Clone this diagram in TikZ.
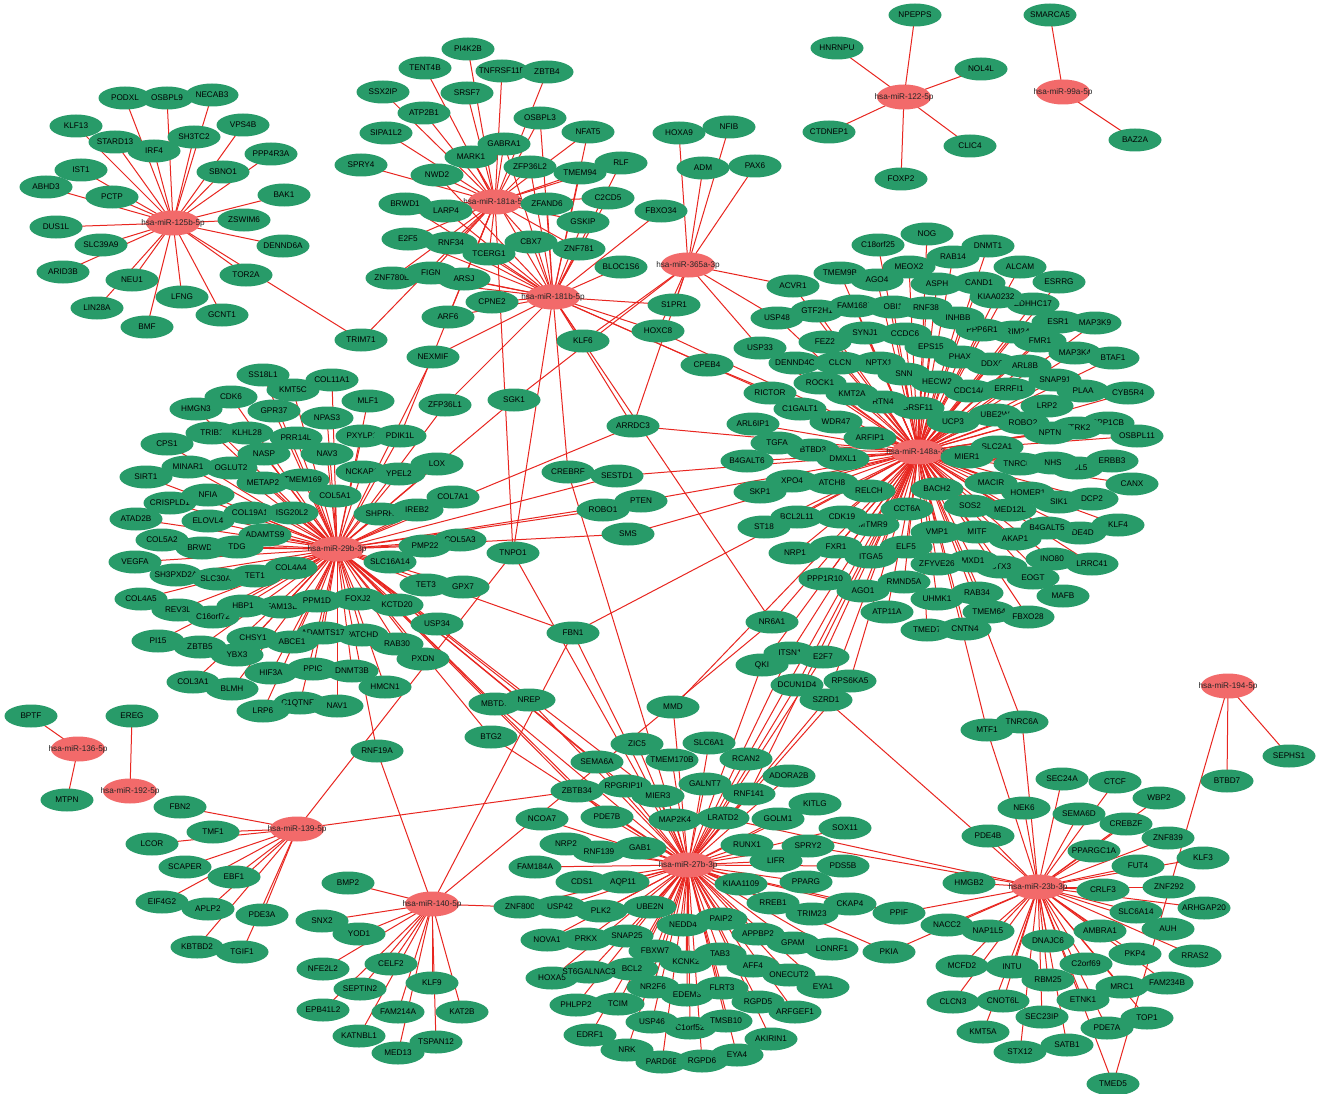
\documentclass[tikz,border=0pt]{standalone}
\usepackage{fontspec}
\setmainfont{Liberation Sans}
\usetikzlibrary{shapes.geometric}
\definecolor{genegreen}{RGB}{40,155,105}
\definecolor{mirred}{RGB}{242,106,106}
\definecolor{edgered}{RGB}{232,38,32}
\pgfdeclarelayer{bgl}\pgfdeclarelayer{edgel}
\pgfsetlayers{bgl,edgel,main}
\newcommand\genefont{\fontsize{8.2}{9}\selectfont}
\newcommand\gnode[3]{\node[gene] (#1) at (#2,#3) {\makebox[0pt]{#1}};}
\newcommand\mnode[4]{\node[mirna] (#1) at (#2,#3) {\makebox[0pt]{#4}};}
\newcommand\linkall[2]{\foreach \x in {#2} {\draw[lnk] (#1.center) -- (\x.center);}}
\tikzset{
  gene/.style={ellipse, fill=genegreen, minimum width=53pt, minimum height=23pt, inner sep=0pt, font=\genefont, text=black},
  mirna/.style={ellipse, fill=mirred, minimum width=54pt, minimum height=25pt, inner sep=0pt, font=\genefont, text=black!85},
  lnk/.style={draw=edgered, line width=1pt}
}
\begin{document}
\begin{tikzpicture}[x=1pt,y=-1pt]
\useasboundingbox (0,0) rectangle (1319,1094);
\begin{pgfonlayer}{bgl}\fill[white] (0,0) rectangle (1319,1094);\end{pgfonlayer}
% hubs
\mnode{m125}{173}{223}{hsa-miR-125b-5p}
\mnode{m181a}{495}{202}{hsa-miR-181a-5p}
\mnode{m181b}{553}{297}{hsa-miR-181b-5p}
\mnode{m365}{688}{265}{hsa-miR-365a-3p}
\mnode{m122}{904}{97}{hsa-miR-122-5p}
\mnode{m99}{1063}{92}{hsa-miR-99a-5p}
\mnode{m148}{918}{452}{hsa-miR-148a-3p}
\mnode{m29}{337}{549}{hsa-miR-29b-3p}
\mnode{m27}{688}{865}{hsa-miR-27b-3p}
\mnode{m23}{1038}{887}{hsa-miR-23b-3p}
\mnode{m194}{1228}{686}{hsa-miR-194-5p}
\mnode{m136}{78}{749}{hsa-miR-136-5p}
\mnode{m192}{130}{791}{hsa-miR-192-5p}
\mnode{m139}{297}{829}{hsa-miR-139-5p}
\mnode{m140}{432}{904}{hsa-miR-140-5p}
% 125b
\gnode{PODXL}{125}{98}\gnode{OSBPL9}{167}{98}\gnode{NECAB3}{212}{95}
\gnode{KLF13}{76}{126}\gnode{STARD13}{115}{142}\gnode{IRF4}{154}{151}
\gnode{SH3TC2}{194}{137}\gnode{VPS4B}{243}{125}\gnode{PPP4R3A}{271}{154}
\gnode{SBNO1}{223}{172}\gnode{IST1}{81}{170}\gnode{ABHD3}{46}{187}
\gnode{PCTP}{112}{197}\gnode{BAK1}{284}{195}\gnode{ZSWIM6}{244}{220}
\gnode{DUS1L}{56}{227}\gnode{SLC39A9}{101}{245}\gnode{DENND6A}{283}{246}
\gnode{ARID3B}{63}{272}\gnode{NEU1}{132}{280}\gnode{TOR2A}{246}{275}
\gnode{LIN28A}{97}{308}\gnode{LFNG}{182}{297}\gnode{GCNT1}{222}{315}
\gnode{BMF}{147}{327}\gnode{TRIM71}{361}{340}
% 181a/b
\gnode{PI4K2B}{468}{49}\gnode{TENT4B}{425}{68}\gnode{TNFRSF11B}{502}{71}
\gnode{ZBTB4}{547}{72}\gnode{SSX2IP}{383}{92}\gnode{SRSF7}{467}{93}
\gnode{ATP2B1}{424}{113}\gnode{OSBPL3}{540}{118}\gnode{SIPA1L2}{386}{133}
\gnode{NFAT5}{588}{132}\gnode{GABRA1}{504}{144}\gnode{MARK1}{471}{157}
\gnode{SPRY4}{361}{165}\gnode{NWD2}{437}{175}\gnode{ZFP36L2}{530}{167}
\gnode{RLF}{621}{163}\gnode{TMEM94}{580}{173}\gnode{BRWD1}{405}{204}
\gnode{LARP4}{446}{211}\gnode{C2CD5}{608}{198}\gnode{ZFAND6}{547}{204}
\gnode{FBXO34}{661}{211}\gnode{GSKIP}{583}{222}\gnode{E2F5}{408}{239}
\gnode{RNF34}{451}{243}\gnode{CBX7}{531}{242}\gnode{ZNF781}{579}{249}
\gnode{TCERG1}{489}{254}\gnode{BLOC1S6}{621}{267}\gnode{ZNF780B}{392}{278}
\gnode{FIGN}{431}{273}\gnode{ARSJ}{464}{279}\gnode{CPNE2}{492}{302}
\gnode{ARF6}{448}{317}\gnode{S1PR1}{674}{305}\gnode{HOXC8}{658}{331}
% 365a
\gnode{HOXA9}{679}{133}\gnode{NFIB}{729}{127}\gnode{ADM}{703}{168}\gnode{PAX6}{755}{166}
% 122, 99a
\gnode{NPEPPS}{915}{15}\gnode{HNRNPU}{837}{48}\gnode{NOL4L}{981}{69}
\gnode{CTDNEP1}{829}{132}\gnode{CLIC4}{970}{146}\gnode{FOXP2}{901}{179}
\gnode{SMARCA5}{1050}{15}\gnode{BAZ2A}{1135}{140}
% 148a upper
\gnode{NOG}{927}{234}\gnode{C18orf25}{878}{245}\gnode{DNMT1}{988}{246}
\gnode{RAB14}{953}{257}\gnode{MEOX2}{909}{267}\gnode{TMEM9B}{840}{273}
\gnode{AGO4}{877}{280}\gnode{ALCAM}{1020}{267}\gnode{ASPH}{937}{284}
\gnode{CAND1}{979}{283}\gnode{ESRRG}{1059}{282}\gnode{ACVR1}{793}{286}
\gnode{ZDHHC17}{1033}{304}\gnode{KIAA0232}{996}{297}\gnode{GTF2H1}{817}{311}
\gnode{FAM168B}{855}{306}\gnode{OBI1}{893}{307}\gnode{RNF38}{926}{308}
\gnode{USP48}{777}{318}\gnode{TRIM24}{1015}{332}\gnode{PPP6R1}{982}{330}
\gnode{INHBB}{958}{318}\gnode{ESR1}{1058}{322}\gnode{MAP3K9}{1095}{323}
\gnode{SYNJ1}{865}{333}\gnode{CCDC6}{905}{334}\gnode{FEZ2}{825}{342}
\gnode{FMR1}{1040}{341}\gnode{EPS15}{931}{347}\gnode{MAP3K4}{1075}{353}
\gnode{BTAF1}{1113}{358}\gnode{USP33}{760}{348}\gnode{PHAX}{960}{357}
\gnode{DDX6}{992}{364}\gnode{ARL8B}{1025}{366}\gnode{DENND4C}{795}{363}
\gnode{CLCN}{840}{363}\gnode{NPTX1}{879}{363}\gnode{SNN}{904}{374}
\gnode{HECW2}{937}{382}\gnode{SNAP91}{1055}{380}\gnode{ROCK1}{820}{383}
\gnode{CDC14A}{970}{391}\gnode{ERRFI1}{1009}{389}\gnode{CYB5R4}{1128}{393}
\gnode{PLAA}{1083}{391}\gnode{SRSF11}{918}{408}\gnode{RTN4}{883}{402}
\gnode{KMT2A}{852}{394}\gnode{RICTOR}{770}{393}\gnode{LRP2}{1047}{406}
\gnode{C1GALT1}{800}{409}\gnode{UBE2W}{995}{415}\gnode{CPEB4}{707}{365}
% 148a lower
\gnode{WDR47}{836}{422}\gnode{ARL6IP1}{753}{424}\gnode{UCP3}{953}{422}
\gnode{ROBO2}{1023}{423}\gnode{PPP1CB}{1108}{423}\gnode{NTRK2}{1077}{428}
\gnode{NPTN}{1050}{433}\gnode{OSBPL11}{1137}{436}\gnode{BTBD3}{813}{450}
\gnode{TGFA}{777}{443}\gnode{ARFIP1}{870}{438}\gnode{DMXL1}{843}{459}
\gnode{B4GALT6}{747}{461}\gnode{SLC2A1}{997}{447}\gnode{MIER1}{967}{457}
\gnode{TNRC6C}{1020}{464}\gnode{CUL5}{1077}{468}\gnode{NHS}{1053}{463}
\gnode{ERBB3}{1112}{461}\gnode{XPO4}{792}{481}\gnode{ATCH8}{832}{483}
\gnode{RELCH}{869}{491}\gnode{SKP1}{760}{492}\gnode{BACH2}{937}{489}
\gnode{MACIR}{991}{483}\gnode{CANX}{1132}{484}\gnode{HOMER1}{1028}{493}
\gnode{SIK1}{1059}{502}\gnode{DCP2}{1092}{499}\gnode{SOS2}{970}{506}
\gnode{MED12L}{1010}{510}\gnode{CCT6A}{907}{509}\gnode{BCL2L11}{797}{517}
\gnode{MTMR9}{873}{525}\gnode{CDK19}{842}{517}\gnode{ST18}{764}{527}
\gnode{VMP1}{937}{532}\gnode{MITF}{977}{532}\gnode{PDE4D}{1080}{533}
\gnode{B4GALT5}{1047}{528}\gnode{KLF4}{1118}{525}\gnode{AKAP1}{1015}{539}
\gnode{NRP1}{795}{553}\gnode{FXR1}{836}{547}\gnode{ELF5}{906}{547}
\gnode{ITGA5}{871}{557}\gnode{INO80}{1052}{559}\gnode{LRRC41}{1092}{564}
\gnode{STX3}{1001}{567}\gnode{MXD1}{973}{561}\gnode{ZFYVE26}{937}{564}
\gnode{EOGT}{1033}{578}\gnode{PPP1R10}{825}{579}\gnode{RMND5A}{904}{582}
\gnode{AGO1}{863}{591}\gnode{MAFB}{1063}{596}\gnode{UHMK1}{937}{599}
\gnode{RAB34}{977}{593}\gnode{TMEM64}{989}{612}\gnode{FBXO28}{1028}{617}
\gnode{ATP11A}{887}{612}\gnode{TMED7}{927}{630}\gnode{CNTN4}{965}{629}
% bridge genes
\gnode{NR6A1}{772}{622}\gnode{QKI}{762}{665}\gnode{ITSN1}{790}{653}
\gnode{E2F7}{823}{657}\gnode{DCUN1D4}{797}{685}\gnode{RPS6KA5}{850}{681}
\gnode{SZRD1}{826}{700}\gnode{MTF1}{987}{730}\gnode{TNRC6A}{1022}{722}
\gnode{NEXMIF}{433}{357}\gnode{KLF6}{583}{341}\gnode{SGK1}{514}{400}
\gnode{ARRDC3}{633}{426}\gnode{CREBRF}{568}{472}\gnode{SESTD1}{617}{476}
\gnode{PTEN}{641}{501}\gnode{ROBO1}{603}{510}\gnode{SMS}{628}{534}
\gnode{TNPO1}{513}{553}\gnode{FBN1}{573}{633}\gnode{MMD}{673}{707}
\gnode{MBTD1}{495}{704}\gnode{NREP}{529}{700}\gnode{BTG2}{491}{737}
\gnode{RNF19A}{377}{751}
% 29b
\gnode{SS18L1}{263}{375}\gnode{KMT5C}{293}{390}\gnode{COL11A1}{332}{380}
\gnode{CDK6}{231}{397}\gnode{HMGN3}{196}{409}\gnode{GPR37}{274}{411}
\gnode{MLF1}{368}{401}\gnode{NPAS3}{327}{418}\gnode{ZFP36L1}{445}{405}
\gnode{TRIB1}{212}{433}\gnode{KLHL28}{247}{433}\gnode{PRR14L}{296}{438}
\gnode{PXYLP1}{362}{436}\gnode{PDIK1L}{400}{436}\gnode{CPS1}{167}{444}
\gnode{NASP}{264}{454}\gnode{NAV3}{327}{454}\gnode{LOX}{437}{464}
\gnode{MINAR1}{188}{467}\gnode{OGLUT2}{231}{468}\gnode{NCKAP1}{362}{472}
\gnode{YPEL2}{399}{474}\gnode{SIRT1}{146}{477}\gnode{TMEM169}{303}{480}
\gnode{METAP2}{263}{483}\gnode{CRISPLD1}{170}{503}\gnode{NFIA}{208}{495}
\gnode{COL5A1}{335}{496}\gnode{COL7A1}{453}{497}\gnode{SHPRH}{380}{514}
\gnode{IREB2}{417}{510}\gnode{ATAD2B}{136}{519}\gnode{ELOVL4}{208}{521}
\gnode{COL19A1}{250}{513}\gnode{ISG20L2}{292}{513}\gnode{ADAMTS9}{265}{535}
\gnode{COL5A2}{162}{540}\gnode{BRWD3}{202}{548}\gnode{TDG}{237}{547}
\gnode{COL5A3}{460}{540}\gnode{PMP22}{425}{546}\gnode{VEGFA}{135}{562}
\gnode{SLC16A14}{390}{562}\gnode{SH3PXD2A}{176}{575}\gnode{SLC30A3}{218}{579}
\gnode{TET1}{255}{576}\gnode{COL4A4}{291}{568}\gnode{TET3}{426}{585}
\gnode{GPX7}{463}{587}\gnode{COL4A5}{141}{599}\gnode{REV3L}{178}{610}
\gnode{C16orf72}{213}{617}\gnode{FAM13B}{282}{607}\gnode{HBP1}{243}{606}
\gnode{PPM1D}{317}{601}\gnode{FOXJ2}{358}{599}\gnode{KCTD20}{397}{605}
\gnode{USP34}{437}{624}\gnode{PI15}{158}{641}\gnode{ZBTB5}{200}{647}
\gnode{PATCHD}{362}{635}\gnode{ADAMTS17}{323}{633}\gnode{ABCE1}{292}{642}
\gnode{CHSY1}{253}{638}\gnode{RAB30}{397}{644}\gnode{YBX3}{237}{655}
\gnode{PXDN}{423}{659}\gnode{HIF3A}{271}{673}\gnode{PPIC}{313}{669}
\gnode{DNMT3B}{352}{671}\gnode{COL3A1}{193}{682}\gnode{BLMH}{232}{689}
\gnode{HMCN1}{385}{687}\gnode{C1QTNF6}{300}{703}\gnode{LRP6}{263}{711}
\gnode{NAV1}{337}{706}
% 27b
\gnode{ZIC5}{637}{744}\gnode{SLC6A1}{709}{743}\gnode{TMEM170B}{672}{760}
\gnode{RCAN2}{746}{759}\gnode{SEMA6A}{597}{762}\gnode{ADORA2B}{789}{776}
\gnode{GALNT7}{705}{784}\gnode{ZBTB34}{577}{791}\gnode{RPGRIP1L}{625}{786}
\gnode{MIER3}{658}{796}\gnode{RNF141}{749}{794}\gnode{KITLG}{815}{804}
\gnode{NCOA7}{542}{819}\gnode{PDE7B}{607}{817}\gnode{MAP2K4}{675}{820}
\gnode{LRATD2}{723}{818}\gnode{GOLM1}{778}{819}\gnode{SOX11}{845}{828}
\gnode{NRP2}{566}{844}\gnode{RNF139}{599}{852}\gnode{GAB1}{640}{848}
\gnode{RUNX1}{747}{845}\gnode{SPRY2}{808}{846}\gnode{LIFR}{776}{861}
\gnode{PDS5B}{843}{866}\gnode{FAM184A}{535}{867}\gnode{CDS1}{582}{882}
\gnode{AQP11}{623}{882}\gnode{KIAA1109}{741}{884}\gnode{PPARG}{806}{882}
\gnode{ZNF800}{520}{907}\gnode{USP42}{560}{907}\gnode{PLK2}{601}{911}
\gnode{UBE2N}{650}{907}\gnode{RREB1}{773}{903}\gnode{CKAP4}{850}{904}
\gnode{TRIM23}{812}{914}\gnode{NEDD4}{683}{925}\gnode{PAIP2}{721}{919}
\gnode{NOVA1}{547}{940}\gnode{PRKX}{586}{939}\gnode{SNAP25}{627}{936}
\gnode{APPBP2}{758}{934}\gnode{GPAM}{793}{943}\gnode{LONRF1}{832}{949}
\gnode{FBXW7}{655}{951}\gnode{KCNK2}{686}{962}\gnode{TAB3}{720}{954}
\gnode{BCL2}{632}{969}\gnode{HOXA5}{552}{978}\gnode{ST6GALNAC3}{589}{972}
\gnode{AFF4}{753}{966}\gnode{ONECUT2}{789}{975}\gnode{EYA1}{823}{987}
\gnode{NR2F6}{653}{987}\gnode{EDEM3}{687}{995}\gnode{FLRT3}{722}{988}
\gnode{RGPD5}{758}{1002}\gnode{ARFGEF1}{795}{1012}\gnode{PHLPP2}{576}{1005}
\gnode{TCIM}{618}{1004}\gnode{C1orf52}{690}{1028}\gnode{USP46}{652}{1022}
\gnode{TMSB10}{726}{1021}\gnode{EDRF1}{590}{1035}\gnode{AKIRIN1}{771}{1039}
\gnode{NRK}{627}{1050}\gnode{EYA4}{737}{1055}\gnode{PARD6B}{662}{1062}
\gnode{RGPD6}{702}{1061}
% 23b
\gnode{SEPHS1}{1289}{756}\gnode{BTBD7}{1227}{781}\gnode{SEC24A}{1062}{779}
\gnode{CTCF}{1115}{782}\gnode{WBP2}{1159}{798}\gnode{NEK6}{1024}{808}
\gnode{SEMA6D}{1079}{814}\gnode{CREBZF}{1126}{824}\gnode{PDE4B}{988}{836}
\gnode{ZNF839}{1168}{838}\gnode{PPARGC1A}{1094}{851}\gnode{KLF3}{1203}{858}
\gnode{FUT4}{1138}{866}\gnode{HMGB2}{969}{883}\gnode{CRLF3}{1103}{890}
\gnode{ZNF292}{1169}{887}\gnode{ARHGAP20}{1204}{908}\gnode{PPIF}{899}{913}
\gnode{SLC6A14}{1136}{912}\gnode{NACC2}{947}{925}\gnode{NAP1L5}{988}{931}
\gnode{AMBRA1}{1100}{931}\gnode{AUH}{1168}{929}\gnode{DNAJC6}{1048}{941}
\gnode{PKIA}{889}{952}\gnode{PKP4}{1135}{954}\gnode{RRAS2}{1195}{956}
\gnode{MCFD2}{962}{966}\gnode{INTU}{1012}{967}\gnode{C2orf69}{1086}{964}
\gnode{RBM25}{1048}{980}\gnode{MRC1}{1122}{987}\gnode{FAM234B}{1167}{983}
\gnode{CLCN3}{953}{1002}\gnode{CNOT6L}{1003}{1001}\gnode{ETNK1}{1083}{1000}
\gnode{SEC23IP}{1042}{1017}\gnode{TOP1}{1147}{1018}\gnode{PDE7A}{1107}{1028}
\gnode{KMT5A}{983}{1032}\gnode{STX12}{1020}{1052}\gnode{SATB1}{1067}{1045}
\gnode{TMED5}{1113}{1084}
% 139, 140, 136, 192
\gnode{FBN2}{180}{807}\gnode{TMF1}{213}{832}\gnode{LCOR}{152}{844}
\gnode{SCAPER}{185}{867}\gnode{EBF1}{234}{877}\gnode{EIF4G2}{162}{902}
\gnode{APLP2}{208}{909}\gnode{PDE3A}{262}{915}\gnode{KBTBD2}{197}{947}
\gnode{TGIF1}{242}{952}
\gnode{BMP2}{348}{883}\gnode{SNX2}{322}{921}\gnode{YOD1}{359}{934}
\gnode{NFE2L2}{323}{969}\gnode{CELF2}{391}{964}\gnode{SEPTIN2}{360}{989}
\gnode{KLF9}{432}{983}\gnode{EPB41L2}{323}{1010}\gnode{FAM214A}{398}{1012}
\gnode{KAT2B}{462}{1012}\gnode{KATNBL1}{359}{1036}\gnode{MED13}{398}{1053}
\gnode{TSPAN12}{436}{1042}
\gnode{BPTF}{31}{716}\gnode{MTPN}{67}{800}\gnode{EREG}{132}{716}
% ---------- edges ----------
\begin{pgfonlayer}{edgel}
\linkall{m125}{PODXL,OSBPL9,NECAB3,KLF13,STARD13,IRF4,SH3TC2,VPS4B,PPP4R3A,SBNO1,IST1,ABHD3,PCTP,BAK1,ZSWIM6,DUS1L,SLC39A9,DENND6A,ARID3B,NEU1,TOR2A,LIN28A,LFNG,GCNT1,BMF,TRIM71}
\linkall{m181a}{PI4K2B,TENT4B,TNFRSF11B,ZBTB4,SSX2IP,SRSF7,ATP2B1,OSBPL3,SIPA1L2,NFAT5,GABRA1,MARK1,SPRY4,NWD2,ZFP36L2,TMEM94,RLF,BRWD1,LARP4,ZFAND6,C2CD5,GSKIP,E2F5,RNF34,CBX7,ZNF781,TCERG1,ZNF780B,FIGN,ARSJ,ARF6,TRIM71,TNPO1,PDIK1L}
\linkall{m181b}{LARP4,E2F5,RNF34,TCERG1,CBX7,ZNF781,GSKIP,ZFAND6,C2CD5,TMEM94,NWD2,BRWD1,FIGN,ARSJ,ZFP36L2,MARK1,GABRA1,NFAT5,OSBPL3,RLF,CPNE2,ARF6,ZNF780B,BLOC1S6,FBXO34,S1PR1,HOXC8,CPEB4,KLF6,NEXMIF,ZFP36L1,TNPO1,CREBRF,ARRDC3,NR6A1,RICTOR}
\linkall{m365}{HOXA9,NFIB,ADM,PAX6,ACVR1,USP48,USP33,S1PR1,HOXC8,KLF6,SGK1,ARRDC3}
\linkall{m122}{NPEPPS,HNRNPU,NOL4L,CTDNEP1,CLIC4,FOXP2}
\linkall{m99}{SMARCA5,BAZ2A}
\linkall{m148}{NOG,C18orf25,DNMT1,RAB14,MEOX2,TMEM9B,AGO4,ALCAM,ASPH,CAND1,ESRRG,ACVR1,KIAA0232,ZDHHC17,FAM168B,GTF2H1,OBI1,RNF38,USP48,INHBB,ESR1,MAP3K9,PPP6R1,TRIM24,SYNJ1,CCDC6,FEZ2,FMR1,EPS15,MAP3K4,BTAF1,USP33,PHAX,DDX6,ARL8B,DENND4C,CLCN,NPTX1,SNN,HECW2,SNAP91,ROCK1,CDC14A,ERRFI1,PLAA,CYB5R4,KMT2A,RICTOR,RTN4,LRP2,C1GALT1,SRSF11,UBE2W,WDR47,ARL6IP1,UCP3,ROBO2,NPTN,NTRK2,PPP1CB,OSBPL11,TGFA,ARFIP1,BTBD3,DMXL1,B4GALT6,SLC2A1,MIER1,TNRC6C,NHS,CUL5,ERBB3,XPO4,ATCH8,RELCH,SKP1,BACH2,MACIR,CANX,HOMER1,SIK1,DCP2,SOS2,MED12L,CCT6A,BCL2L11,CDK19,ST18,MTMR9,VMP1,MITF,B4GALT5,PDE4D,KLF4,AKAP1,NRP1,FXR1,ELF5,ITGA5,INO80,LRRC41,ZFYVE26,MXD1,STX3,EOGT,PPP1R10,RMND5A,AGO1,MAFB,RAB34,UHMK1,TMEM64,FBXO28,ATP11A,TMED7,CNTN4,CPEB4,HOXC8,SESTD1,PTEN,SMS,FBN1,ARRDC3,NR6A1,MMD,QKI,ITSN1,E2F7,DCUN1D4,RPS6KA5,SZRD1,RCAN2,RNF141,MTF1,TNRC6A}
\linkall{m29}{SS18L1,KMT5C,COL11A1,CDK6,HMGN3,GPR37,MLF1,NPAS3,ZFP36L1,TRIB1,KLHL28,PRR14L,PXYLP1,PDIK1L,CPS1,NASP,NAV3,LOX,MINAR1,OGLUT2,NCKAP1,YPEL2,SIRT1,METAP2,TMEM169,CRISPLD1,NFIA,COL5A1,COL7A1,IREB2,SHPRH,ATAD2B,ELOVL4,COL19A1,ISG20L2,ADAMTS9,COL5A2,BRWD3,TDG,PMP22,COL5A3,VEGFA,SLC16A14,SH3PXD2A,SLC30A3,TET1,COL4A4,TET3,GPX7,COL4A5,REV3L,C16orf72,HBP1,FAM13B,PPM1D,FOXJ2,KCTD20,USP34,PI15,ZBTB5,CHSY1,ADAMTS17,PATCHD,RAB30,YBX3,ABCE1,PXDN,HIF3A,PPIC,DNMT3B,COL3A1,BLMH,HMCN1,LRP6,C1QTNF6,NAV1,NEXMIF,SGK1,ARRDC3,SESTD1,ROBO1,PTEN,SMS,FBN1,RNF19A,MBTD1,NREP,BTG2,SEMA6A,ZBTB34,RPGRIP1L,MIER3,PDE7B}
\linkall{m27}{ZIC5,SLC6A1,TMEM170B,RCAN2,SEMA6A,ADORA2B,GALNT7,ZBTB34,RPGRIP1L,MIER3,RNF141,KITLG,NCOA7,PDE7B,MAP2K4,LRATD2,GOLM1,SOX11,NRP2,RNF139,GAB1,RUNX1,SPRY2,LIFR,PDS5B,FAM184A,CDS1,AQP11,KIAA1109,PPARG,ZNF800,USP42,PLK2,UBE2N,RREB1,CKAP4,TRIM23,NEDD4,PAIP2,NOVA1,PRKX,SNAP25,APPBP2,GPAM,LONRF1,PKIA,FBXW7,TAB3,KCNK2,HOXA5,ST6GALNAC3,BCL2,AFF4,ONECUT2,EYA1,NR2F6,EDEM3,FLRT3,RGPD5,ARFGEF1,PHLPP2,TCIM,USP46,C1orf52,TMSB10,EDRF1,AKIRIN1,NRK,EYA4,PARD6B,RGPD6,PPIF,MMD,TNPO1,CREBRF,FBN1,MBTD1,NREP,BTG2,QKI,ITSN1,E2F7,DCUN1D4,RPS6KA5,SZRD1}
\linkall{m23}{SEC24A,CTCF,WBP2,NEK6,SEMA6D,CREBZF,PDE4B,ZNF839,PPARGC1A,KLF3,FUT4,HMGB2,CRLF3,ZNF292,ARHGAP20,PPIF,SLC6A14,NACC2,NAP1L5,AMBRA1,AUH,DNAJC6,PKIA,PKP4,RRAS2,MCFD2,INTU,C2orf69,RBM25,MRC1,FAM234B,CLCN3,CNOT6L,ETNK1,SEC23IP,TOP1,PDE7A,KMT5A,STX12,SATB1,TMED5,MTF1,TNRC6A,SZRD1,LRATD2,SPRY2}
\linkall{m194}{BTBD7,SEPHS1,TMED5}
\linkall{m136}{BPTF,MTPN}
\linkall{m192}{EREG}
\linkall{m139}{FBN2,TMF1,LCOR,SCAPER,EBF1,EIF4G2,APLP2,PDE3A,KBTBD2,TGIF1,TNPO1,ZBTB34}
\linkall{m140}{BMP2,SNX2,YOD1,NFE2L2,CELF2,SEPTIN2,KLF9,EPB41L2,FAM214A,KAT2B,KATNBL1,MED13,TSPAN12,ZNF800,RNF19A,FBN1,NR6A1}
\end{pgfonlayer}
\end{tikzpicture}
\end{document}
